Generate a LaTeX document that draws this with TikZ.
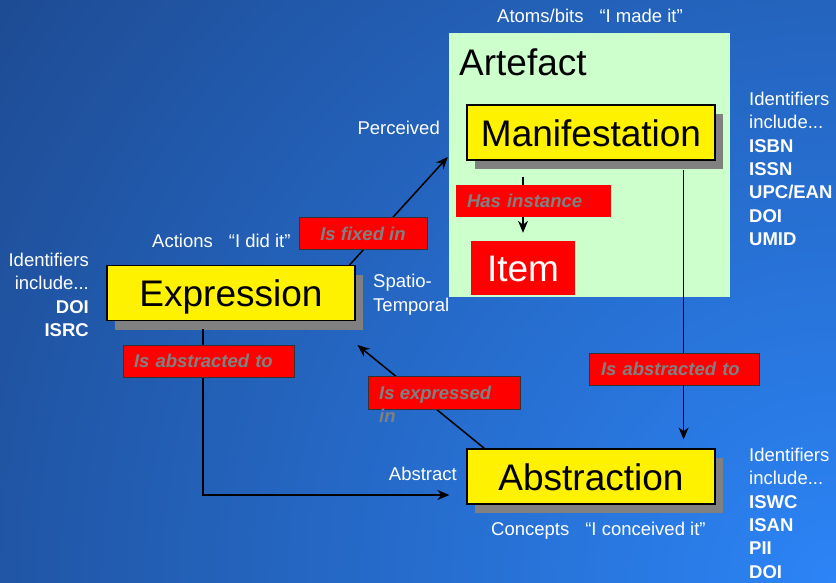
\documentclass[tikz,border=0pt]{standalone}
\usepackage{fontspec}
\setmainfont{Liberation Sans}
\usetikzlibrary{arrows.meta,calc,shadows}
\definecolor{bgdark}{RGB}{28,68,134}
\definecolor{bglight}{RGB}{44,132,246}
\definecolor{artgreen}{RGB}{204,255,204}
\definecolor{lblgray}{RGB}{128,128,128}
\definecolor{shadowgray}{RGB}{128,128,128}
\tikzset{
  x=1pt, y=-1pt,
  bigbox/.style={draw=black, line width=1.2pt, fill=yellow, minimum width=248pt, minimum height=55pt,
    inner sep=0pt, font=\fontsize{37}{40}\selectfont, text height=27pt, text depth=0pt,
    drop shadow={shadow xshift=8pt, shadow yshift=-9pt, fill=shadowgray, opacity=1}},
  redlbl/.style={draw=black!80, line width=0.8pt, fill=red, minimum height=32pt, inner sep=0pt,
    text=lblgray, font=\fontsize{18.5}{20}\selectfont\bfseries\itshape},
  wtext/.style={text=white, font=\fontsize{18.5}{23.3}\selectfont, inner sep=0pt},
  arr/.style={draw=black, line width=1.5pt, -{Stealth[length=12pt,width=10pt]}},
}
\begin{document}
\begin{tikzpicture}
\useasboundingbox (0,0) rectangle (836,582);
\begin{scope}
\clip (0,0) rectangle (836,582);
\shade[inner color=bglight, outer color=bgdark] (836,582) circle[radius=1150];
\end{scope}

% Artefact region
\node[fill=artgreen, minimum width=281pt, minimum height=264pt, inner sep=0pt] (artefact) at (589.5,165) {};
\node[anchor=base west, font=\fontsize{37}{40}\selectfont, inner sep=0pt] (arttitle) at (459,75) {Artefact};

% main boxes
\node[bigbox] (manif) at (591,132.5) {Manifestation};
\node[bigbox] (expr) at (231,293) {Expression};
\node[bigbox] (abstr) at (591,476.5) {Abstraction};
\node[fill=red, minimum width=104pt, minimum height=54pt, inner sep=0pt, text=white,
      text height=27pt, text depth=0pt,
      font=\fontsize{37}{40}\selectfont] (item) at (523,268) {Item\hspace{6pt}};

% connectors
\draw[arr] ($(expr.north east)+(-6,0)$) -- ($(artefact.west)+(-1,-8)$);
\draw[arr] ($(manif.south -| item.north)+(0,16)$) -- ($(item.north)+(0,-8)$);
\draw[arr] ($(manif.south east)+(-32,9)$) -- ($(abstr.north east)+(-32,-9)$);
\draw[arr] ($(abstr.north west)+(18,0)$) -- ($(expr.south east)+(2,24)$);
\draw[arr] ($(expr.south)+(-28,8)$) |- ($(abstr.west)+(-17,18.5)$);

% relation labels
\node[redlbl, draw=none, minimum width=155pt, text width=133pt, align=left] (hasinst) at (533.5,201) {Has instance};
\node[redlbl, minimum width=128pt] (fixed) at (363,233.5) {Is fixed in};
\node[redlbl, minimum width=171pt, text width=149pt, align=left] (abs1) at (208.5,361) {Is abstracted to};
\node[redlbl, minimum width=170pt, text width=146pt, align=left] (abs2) at (674,369) {Is abstracted to};
\node[redlbl, minimum width=152pt, minimum height=33pt] (exprbox) at (444,392.5) {};
\node[anchor=north west, text=lblgray, font=\fontsize{18.5}{22.5}\selectfont\bfseries\itshape,
      inner sep=0pt, align=left] (exprtxt) at (379,386) {Is expressed\\in};

% annotations
\node[wtext, anchor=base] (atoms) at (590,22) {Atoms/bits\hspace{16pt}“I made it”};
\node[wtext, anchor=base east] (perc) at (440,134) {Perceived};
\node[wtext, anchor=base west] (actions) at (152,247) {Actions\hspace{16pt}“I did it”};
\node[wtext, anchor=base west, align=left] (spatio) at (373,311) {Spatio-\\Temporal};
\node[wtext, anchor=base east] (abst) at (457,480) {Abstract};
\node[wtext, anchor=base west] (conc) at (491,535) {Concepts\hspace{16pt}“I conceived it”};

\node[wtext, anchor=north east, align=right] (idl) at (89,253)
  {Identifiers\\include...\\\textbf{DOI}\\\textbf{ISRC}};
\node[wtext, anchor=north west, align=left] (idtop) at (749,92)
  {Identifiers\\include...\\\textbf{ISBN}\\\textbf{ISSN}\\\textbf{UPC/EAN}\\\textbf{DOI}\\\textbf{UMID}};
\node[wtext, anchor=north west, align=left] (idbot) at (749,448)
  {Identifiers\\include...\\\textbf{ISWC}\\\textbf{ISAN}\\\textbf{PII}\\\textbf{DOI}};
\end{tikzpicture}
\end{document}
